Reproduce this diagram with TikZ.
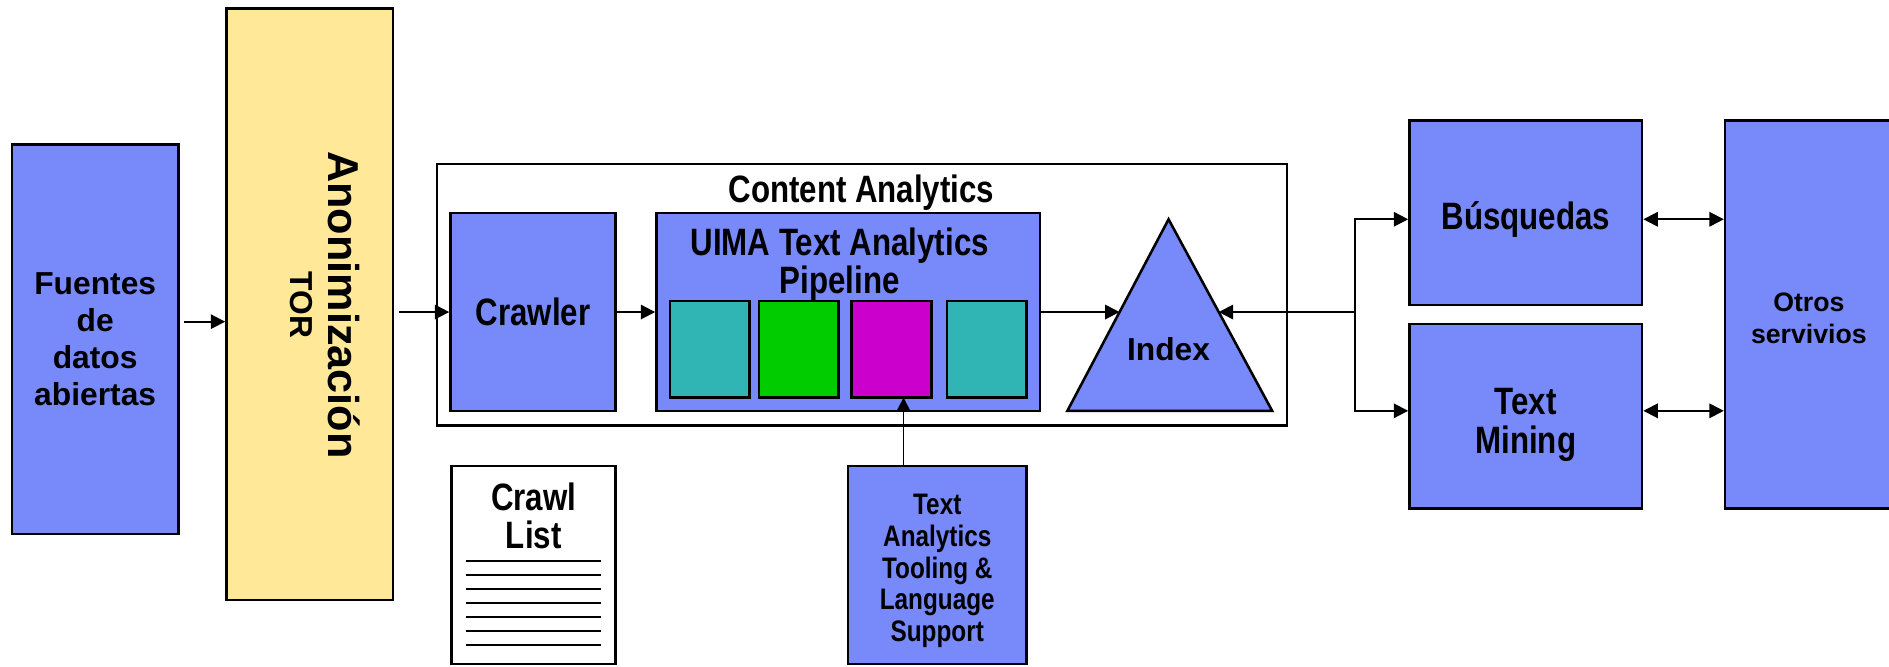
\documentclass[tikz,border=0pt]{standalone}
\usepackage{fontspec}
\setmainfont{Liberation Sans}
\newfontfamily\narrowsf[FakeStretch=0.82]{Liberation Sans}
\usetikzlibrary{arrows.meta}
\definecolor{boxblue}{RGB}{120,137,250}
\definecolor{torbeige}{RGB}{255,233,153}
\definecolor{annteal}{RGB}{48,180,180}
\definecolor{anngreen}{RGB}{0,204,0}
\definecolor{annmagenta}{RGB}{204,0,204}

\begin{document}
\begin{tikzpicture}[x=0.01cm,y=-0.01cm,>={Triangle[length=3.4pt,width=3.4pt]},
                    line width=0.45pt,inner sep=0pt]
  \tikzstyle{block}=[draw,line width=0.6pt,fill=boxblue,align=center]
  \tikzstyle{frame}=[draw,line width=0.6pt,fill=white]
  \tikzstyle{annot}=[draw,line width=0.6pt,minimum width=0.66cm,minimum height=0.8cm]
  \tikzstyle{big}=[align=center,font=\narrowsf\bfseries\fontsize{9}{9}\selectfont]
  \tikzstyle{small}=[align=center,font=\bfseries\fontsize{7.5}{8.8}\selectfont]
  \tikzstyle{tiny}=[align=center,font=\narrowsf\bfseries\fontsize{7}{7.5}\selectfont]

  \clip (0,0) rectangle (1568,553);

  % sources and anonymisation
  \node[block,small,minimum width=1.38cm,minimum height=3.23cm] (fuentes) at (79,281.5)
       {Fuentes\\de\\datos\\abiertas};
  \node[frame,fill=torbeige,minimum width=1.38cm,minimum height=4.91cm] (anon) at (257,252.5) {};
  \node[rotate=-90,align=center,font=\bfseries\fontsize{10.2}{11}\selectfont] (anontext) at (270,253)
       {Anonimización\\[-2.2pt]{\fontsize{7.5}{8}\selectfont TOR}};

  % content analytics
  \node[frame,minimum width=7.05cm,minimum height=2.17cm] (content) at (715.5,244.5) {};
  \node[big] (contentlabel) at (715,160) {Content Analytics};
  \node[block,big,minimum width=1.37cm,minimum height=1.64cm] (crawler) at (442.5,259) {Crawler};
  \node[block,minimum width=3.18cm,minimum height=1.64cm] (uima) at (704,259) {};
  \node[big] (uimalabel) at (697,220) {UIMA Text Analytics\\Pipeline};
  \node[annot,fill=annteal]    (ann1) at (589,290) {};
  \node[annot,fill=anngreen]   (ann2) at (663,290) {};
  \node[annot,fill=annmagenta] (ann3) at (740,290) {};
  \node[annot,fill=annteal]    (ann4) at (819,290) {};
  \draw[line width=0.6pt,fill=boxblue] (886,341) -- (970,182) -- (1056,341) -- cycle;
  \node[small] (index) at (970,290) {Index};
  \coordinate (indexin)  at (929.3,259);
  \coordinate (indexout) at (1011.6,259);

  % crawl list and tooling
  \node[frame,minimum width=1.36cm,minimum height=1.64cm] (crawllist) at (443,469) {};
  \node[big] (crawltitle) at (443,428) {Crawl\\List};
  \foreach \i in {0,...,6}
    \draw (387,{466+11.5*\i}) -- (499,{466+11.5*\i});
  \node[block,minimum width=1.48cm,minimum height=1.64cm,
        label={[tiny,name=toolinglabel,yshift=-0.05cm]center:Text\\Analytics\\Tooling \&\\Language\\Support}]
        (tooling) at (778,469) {};
  \coordinate (toolin) at (750,330);

  % services
  \node[block,minimum width=1.93cm,minimum height=1.53cm,
        label={[big,name=busqlabel,yshift=-0.06cm]center:Búsquedas}] (busq) at (1266.5,176.5) {};
  \node[block,minimum width=1.93cm,minimum height=1.53cm,
        label={[big,name=mininglabel,yshift=-0.07cm]center:Text\\[0.2pt]Mining}] (mining) at (1266.5,345.5) {};
  \node[block,minimum width=1.39cm,minimum height=3.22cm,
        label={[name=otroslabel,yshift=-0.03cm,align=center,font=\bfseries\fontsize{6.3}{7.6}\selectfont]center:Otros\\servivios}]
        (otros) at (1501.5,261) {};
  \coordinate (fork) at (1125,259);

  % connectors
  \draw[->,shorten <=1pt] ([yshift=0.145cm]fuentes.east) -- ([yshift=0.145cm]fuentes.east -| anon.west);
  \draw[->,shorten <=1.2pt] (anon.east |- crawler.west) -- (crawler.west);
  \draw[->] (crawler) -- (uima);
  \draw[->] (uima.east) -- (indexin);
  \draw[->] (tooling.north -| toolin) -- (toolin);
  \draw[->] (fork) -- (indexout);
  \draw[->] (fork) |- ([yshift=-0.055cm]busq.west);
  \draw[->] (fork) |- ([yshift=0.045cm]mining.west);
  \draw[<->] ([yshift=-0.055cm]busq.east) -- ([yshift=-0.055cm]otros.west |- busq.east);
  \draw[<->] ([yshift=0.045cm]mining.east) -- ([yshift=0.045cm]otros.west |- mining.east);
\end{tikzpicture}
\end{document}
